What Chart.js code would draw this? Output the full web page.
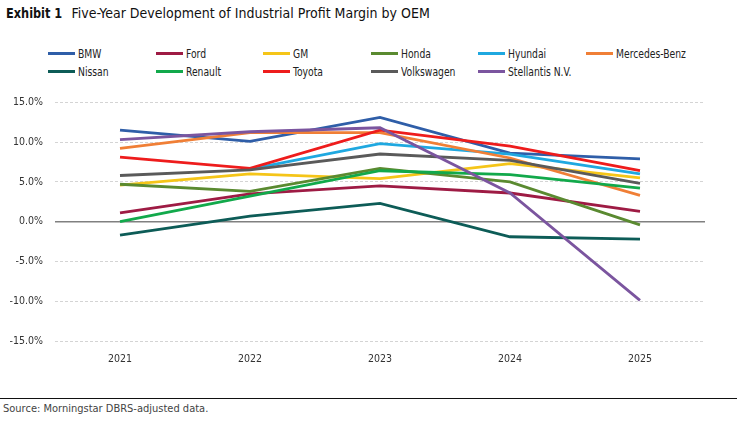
<!DOCTYPE html>
<html>
<head>
<meta charset="utf-8">
<script src="https://cdn.jsdelivr.net/npm/chart.js@4.4.1/dist/chart.umd.min.js"></script>
<style>
  html, body { margin: 0; padding: 0; background: #fff; }
  body { width: 737px; height: 424px; position: relative; overflow: hidden;
    font-family: "Liberation Sans Narrow", "DejaVu Sans Condensed", "Roboto", sans-serif; color: #222; }
  .title { position: absolute; left: 6px; top: 5px; font-size: 14px; color: #111; white-space: nowrap; }
  .title b { font-weight: bold; margin-right: -1px; display: inline-block; transform: scaleX(0.9); transform-origin: left; }
  .legend-item { position: absolute; height: 16px; line-height: 16px; font-size: 12.5px; white-space: nowrap; }
  .legend-item i { display: inline-block; width: 27px; height: 3px; vertical-align: middle; margin-right: 3px; position: relative; top: -1px; }
  .legend-item span { display: inline-block; transform: scaleX(0.82); transform-origin: left; }
  .chart-wrap { position: absolute; left: 0; top: 84px; width: 737px; height: 287px; }
  .rule { position: absolute; left: 0; top: 398px; width: 737px; height: 1px; background: #111; }
  .source { position: absolute; left: 3px; top: 402px; font-size: 11px; color: #444; }
</style>
</head>
<body>
<div class="title"><b>Exhibit 1</b> Five-Year Development of Industrial Profit Margin by OEM</div>
<div id="legend"></div>
<div class="chart-wrap"><canvas id="chartCanvas"></canvas></div>
<div class="rule"></div>
<div class="source">Source: Morningstar DBRS-adjusted data.</div>
<script>
var years = ['2021', '2022', '2023', '2024', '2025'];
var yTicks = [-15, -10, -5, 0, 5, 10, 15];

// profit margin, %
var bmw = [11.5, 10.1, 13.1, 8.6, 7.9];
var ford = [1.1, 3.5, 4.5, 3.6, 1.3];
var gm = [4.6, 6.0, 5.4, 7.3, 5.5];
var honda = [4.7, 3.8, 6.7, 5.0, -0.4];
var hyundai = [null, 6.6, 9.8, 8.5, 6.0];
var mercedes = [9.2, 11.2, 11.2, 8.0, 3.3];
var nissan = [-1.7, 0.7, 2.3, -1.9, -2.2];
var renault = [0.0, 3.2, 6.4, 5.9, 4.2];
var toyota = [8.1, 6.7, 11.5, 9.5, 6.4];
var volkswagen = [5.8, 6.5, 8.5, 7.7, 4.8];
var stellantis = [10.3, 11.3, 11.8, 3.6, -9.9];

var series = [
  { name: 'BMW', data: bmw, color: '#2f5ea8' },
  { name: 'Ford', data: ford, color: '#9e1b44' },
  { name: 'GM', data: gm, color: '#f5c518' },
  { name: 'Honda', data: honda, color: '#5a8a30' },
  { name: 'Hyundai', data: hyundai, color: '#1fa8e0' },
  { name: 'Mercedes-Benz', data: mercedes, color: '#f07f36' },
  { name: 'Nissan', data: nissan, color: '#0d5c57' },
  { name: 'Renault', data: renault, color: '#12a94b' },
  { name: 'Toyota', data: toyota, color: '#ee1c1c' },
  { name: 'Volkswagen', data: volkswagen, color: '#5a5a5a' },
  { name: 'Stellantis N.V.', data: stellantis, color: '#7b559f' }
];

var FONT = '"Liberation Sans Narrow", "DejaVu Sans Condensed", "Roboto", sans-serif';

// legend, 6 per row like the exhibit
(function () {
  var host = document.getElementById('legend');
  series.forEach(function (s, i) {
    var el = document.createElement('div');
    el.className = 'legend-item';
    el.style.left = (48 + (i % 6) * 107.6) + 'px';
    el.style.top = (i < 6 ? 46 : 64) + 'px';
    el.innerHTML = '<i style="background:' + s.color + '"></i><span>' + s.name + '</span>';
    host.appendChild(el);
  });
})();

var zeroLine = {
  id: 'zeroLine',
  beforeDatasetsDraw: function (chart) {
    var y = chart.scales.y.getPixelForValue(0);
    var ctx = chart.ctx;
    ctx.save();
    ctx.strokeStyle = '#808080';
    ctx.lineWidth = 1.5;
    ctx.beginPath();
    ctx.moveTo(chart.chartArea.left, y);
    ctx.lineTo(chart.chartArea.right, y);
    ctx.stroke();
    ctx.restore();
  }
};

new Chart(document.getElementById('chartCanvas').getContext('2d'), {
  type: 'line',
  data: {
    labels: years,
    datasets: series.map(function (s, i) {
      return {
        label: s.name,
        data: s.data,
        borderColor: s.color,
        backgroundColor: s.color,
        borderWidth: 2.8,
        pointRadius: 0,
        tension: 0,
        order: series.length - i
      };
    })
  },
  options: {
    responsive: true,
    maintainAspectRatio: false,
    animation: false,
    layout: { padding: { top: 15, right: 32, left: 0, bottom: 0 } },
    plugins: {
      legend: { display: false },
      tooltip: { enabled: false }
    },
    scales: {
      x: {
        offset: true,
        grid: { display: false, drawTicks: false },
        border: { display: false },
        ticks: { color: '#333', padding: 12, font: { family: FONT, size: 10.5 } },
        afterFit: function (scale) { scale.height = 30; }
      },
      y: {
        min: yTicks[0],
        max: yTicks[yTicks.length - 1],
        afterBuildTicks: function (scale) {
          scale.ticks = yTicks.map(function (v) { return { value: v }; });
        },
        grid: {
          drawTicks: false,
          lineWidth: 1,
          color: function (c) { return c.tick && c.tick.value === 0 ? 'rgba(0,0,0,0)' : '#d4d4d4'; }
        },
        border: { display: false, dash: [3, 2] },
        ticks: {
          color: '#333',
          padding: 12,
          font: { family: FONT, size: 10.5 },
          callback: function (v) { return Number(v).toFixed(1) + '%'; }
        },
        afterFit: function (scale) { scale.width = 55; }
      }
    }
  },
  plugins: [zeroLine]
});
</script>
</body>
</html>
